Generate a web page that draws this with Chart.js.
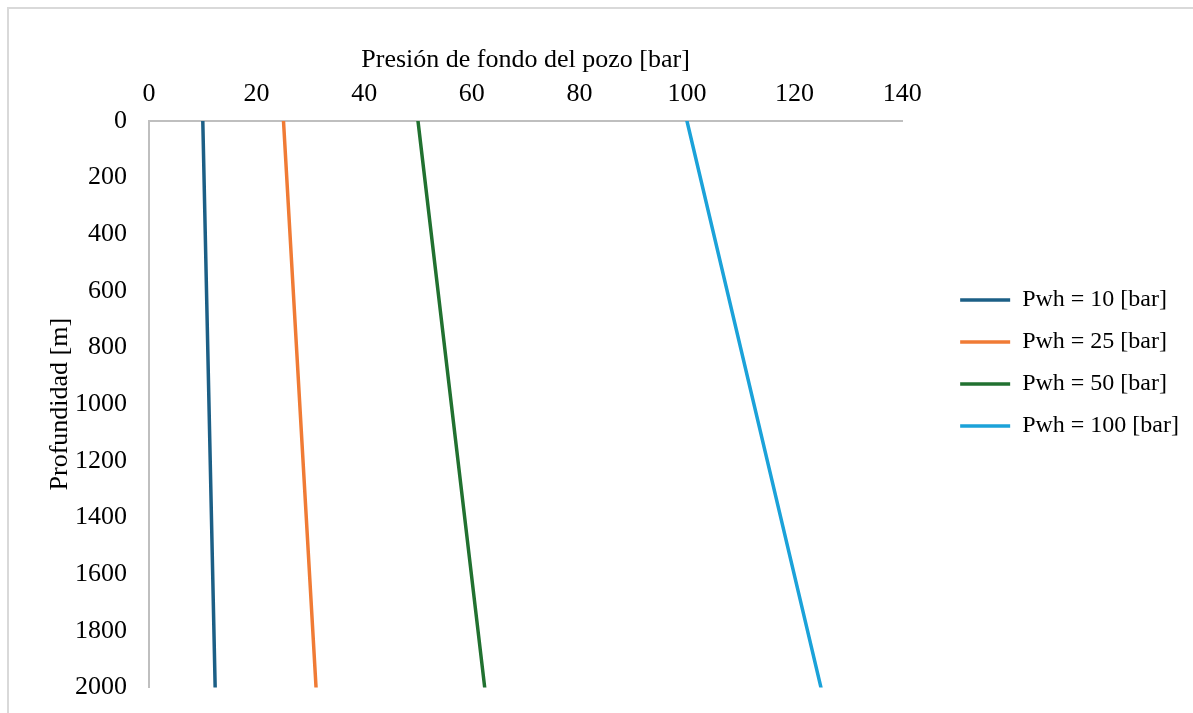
<!DOCTYPE html>
<html lang="es">
<head>
    <meta charset="UTF-8">
    <title>Presión de fondo del pozo</title>
    <script src="https://cdn.jsdelivr.net/npm/chart.js"></script>
    <style>
        body {
            margin: 0;
            background: #fff;
            overflow: hidden;
        }
        .frame {
            position: absolute;
            left: 7px;
            top: 7px;
            width: 1200px;
            height: 720px;
            border-left: 2px solid #d9d9d9;
            border-top: 2px solid #d9d9d9;
        }
        .chart-box {
            position: absolute;
            left: 0;
            top: 0;
            width: 1184px;
            height: 708px;
        }
    </style>
</head>
<body>
    <div class="frame">
        <div class="chart-box">
            <canvas id="pressureChart"></canvas>
        </div>
    </div>

    <script>
        // depth points (m) and bottom-hole pressure for each wellhead pressure (bar)
        const depths = [0, 2000];
        const seriesLabels = ['Pwh = 10 [bar]', 'Pwh = 25 [bar]', 'Pwh = 50 [bar]', 'Pwh = 100 [bar]'];
        const pwh10 = [10, 12.3];
        const pwh25 = [25, 31.05];
        const pwh50 = [50, 62.4];
        const pwh100 = [100, 124.9];
        const seriesColors = ['#1c5f86', '#f07b35', '#217130', '#1ba2d9'];

        const serif = "'Liberation Serif', 'Times New Roman', serif";

        function toPoints(values) {
            return values.map((v, i) => ({ x: v, y: depths[i] }));
        }

        const allSeries = [pwh10, pwh25, pwh50, pwh100];
        const datasets = allSeries.map((vals, i) => ({
            label: seriesLabels[i],
            data: toPoints(vals),
            borderColor: seriesColors[i],
            backgroundColor: seriesColors[i],
            borderWidth: 3.5,
            pointRadius: 0,
            pointStyle: 'line',
            borderCapStyle: 'round',
            tension: 0
        }));

        // push the legend away from the plot, like the Excel original
        const legendShift = {
            id: 'legendShift',
            afterLayout(chart) {
                const lg = chart.legend;
                if (!lg) return;
                lg.left += 40;
                lg.right += 40;
                lg.top += 1;
                lg.bottom += 1;
            }
        };

        const ctx = document.getElementById('pressureChart').getContext('2d');
        new Chart(ctx, {
            type: 'line',
            data: { datasets: datasets },
            plugins: [legendShift],
            options: {
                responsive: true,
                maintainAspectRatio: false,
                animation: false,
                layout: {
                    padding: { top: 10, bottom: 12, left: 10, right: 44 }
                },
                scales: {
                    x: {
                        type: 'linear',
                        position: 'top',
                        min: 0,
                        max: 140,
                        grid: { display: false },
                        border: { display: true, color: '#bfbfbf', width: 2 },
                        ticks: {
                            stepSize: 20,
                            color: '#000',
                            padding: 3,
                            font: { family: serif, size: 26 },
                            callback: v => String(v)
                        },
                        title: {
                            display: true,
                            text: 'Presión de fondo del pozo [bar]',
                            color: '#000',
                            font: { family: serif, size: 26 },
                            padding: { top: 26, bottom: 0 }
                        },
                        afterFit: s => { s.height = 102; }
                    },
                    y: {
                        type: 'linear',
                        reverse: true,
                        min: 0,
                        max: 2000,
                        grid: { display: false },
                        border: { display: true, color: '#bfbfbf', width: 2 },
                        ticks: {
                            stepSize: 200,
                            color: '#000',
                            padding: 14,
                            font: { family: serif, size: 26 },
                            callback: v => String(v)
                        },
                        title: {
                            display: true,
                            text: 'Profundidad [m]',
                            color: '#000',
                            font: { family: serif, size: 26 },
                            padding: { top: 26, bottom: 0 }
                        },
                        afterFit: s => { s.width = 130; }
                    }
                },
                plugins: {
                    legend: {
                        position: 'right',
                        labels: {
                            usePointStyle: true,
                            pointStyleWidth: 50,
                            color: '#000',
                            padding: 18,
                            font: { family: serif, size: 24 }
                        }
                    },
                    tooltip: { enabled: false }
                }
            }
        });
    </script>
</body>
</html>
